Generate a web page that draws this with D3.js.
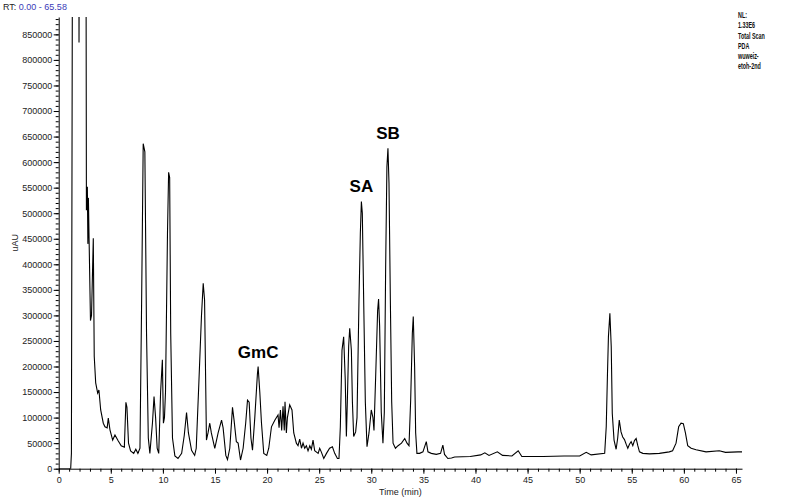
<!DOCTYPE html>
<html>
<head>
<meta charset="utf-8">
<script src="https://cdn.jsdelivr.net/npm/d3@7"></script>
<style>
  body { margin: 0; background: #fff; }
  text { font-family: Arial, "Liberation Sans", sans-serif; }
</style>
</head>
<body>
<div id="chart-container"></div>
<script>
// Retention time (min) and absorbance (uAU)
const times = [0, 1.15, 1.22, 1.30, 1.35, 1.90, 1.95, 2.02, 2.60, 2.66, 2.75, 2.80, 2.85, 2.92, 3.05, 3.15, 3.32, 3.41, 3.55, 3.74, 3.86, 4.03, 4.28, 4.44, 4.65, 4.76, 4.92, 5.18, 5.4, 5.69, 6.0, 6.3, 6.45, 6.55, 6.7, 6.9, 7.2, 7.4, 7.6, 7.8, 7.96, 8.11, 8.27, 8.43, 8.6, 8.75, 9.0, 9.15, 9.3, 9.45, 9.6, 9.78, 9.95, 10.05, 10.15, 10.25, 10.44, 10.55, 10.65, 10.75, 10.92, 11.15, 11.45, 11.8, 12.05, 12.27, 12.45, 12.75, 13.05, 13.2, 13.45, 13.7, 13.87, 14.0, 14.18, 14.33, 14.5, 14.65, 14.98, 15.3, 15.63, 15.78, 16.04, 16.2, 16.42, 16.68, 16.83, 17.05, 17.22, 17.45, 17.7, 17.95, 18.12, 18.28, 18.45, 18.6, 18.82, 19.07, 19.14, 19.3, 19.46, 19.68, 19.97, 20.16, 20.42, 20.74, 21.05, 21.15, 21.28, 21.4, 21.53, 21.65, 21.72, 21.85, 21.95, 22.17, 22.39, 22.56, 22.81, 22.97, 23.13, 23.3, 23.45, 23.61, 23.77, 23.93, 24.1, 24.25, 24.41, 24.57, 24.9, 25.05, 25.2, 25.44, 25.7, 26.0, 26.27, 26.49, 26.75, 26.9, 27.03, 27.19, 27.35, 27.5, 27.61, 27.7, 27.83, 27.93, 28.09, 28.19, 28.31, 28.5, 28.63, 28.82, 28.95, 29.05, 29.14, 29.27, 29.43, 29.59, 29.78, 30.0, 30.16, 30.26, 30.42, 30.61, 30.7, 30.8, 30.96, 31.12, 31.25, 31.38, 31.5, 31.6, 31.7, 31.83, 31.96, 32.09, 32.32, 32.57, 32.9, 33.21, 33.43, 33.62, 33.78, 33.94, 34.03, 34.16, 34.26, 34.38, 34.64, 34.96, 35.28, 35.44, 35.76, 36.24, 36.65, 36.87, 37.03, 37.35, 37.7, 38.0, 39.5, 40.5, 40.9, 41.3, 42.1, 42.6, 43.5, 44.1, 44.45, 46.5, 48.5, 50.0, 50.63, 51.1, 52.4, 52.55, 52.67, 52.76, 52.9, 53.03, 53.13, 53.3, 53.5, 53.65, 53.8, 53.97, 54.13, 54.3, 54.46, 54.62, 54.78, 54.94, 55.1, 55.26, 55.42, 55.58, 55.74, 56.06, 56.7, 57.65, 58.6, 58.92, 59.25, 59.5, 59.73, 59.95, 60.15, 60.37, 60.7, 61.17, 62.13, 63.4, 64.0, 65.2, 65.58];
const signal = [0, 0, 30000, 840000, 1330000, 1330000, 834000, 1330000, 1330000, 506000, 552000, 440000, 530000, 445000, 290000, 300000, 451000, 220000, 168000, 148000, 154000, 115000, 89000, 82000, 80000, 99000, 76000, 56000, 66000, 55000, 45000, 42000, 130000, 120000, 50000, 35000, 30000, 38000, 30000, 40000, 330000, 636000, 620000, 265000, 60000, 30000, 90000, 141000, 100000, 40000, 30000, 150000, 213000, 89000, 100000, 150000, 460000, 580000, 570000, 265000, 60000, 25000, 20000, 30000, 65000, 110000, 70000, 36000, 26000, 40000, 167000, 298000, 363000, 330000, 56000, 70000, 89000, 70000, 40000, 70000, 95000, 80000, 26000, 18000, 40000, 120000, 95000, 53000, 50000, 17000, 40000, 90000, 134000, 130000, 60000, 36000, 100000, 185000, 200000, 150000, 90000, 30000, 26000, 40000, 82000, 95000, 105000, 80000, 115000, 75000, 122000, 75000, 131000, 70000, 100000, 125000, 115000, 70000, 50000, 45000, 58000, 40000, 50000, 40000, 45000, 35000, 45000, 38000, 56000, 35000, 30000, 40000, 33000, 20000, 30000, 40000, 43000, 30000, 20000, 20000, 82000, 232000, 258000, 175000, 63000, 130000, 240000, 275000, 232000, 130000, 63000, 72000, 100000, 330000, 461000, 523000, 500000, 330000, 130000, 43000, 70000, 115000, 100000, 75000, 180000, 310000, 332000, 280000, 110000, 50000, 110000, 396000, 591000, 627000, 559000, 330000, 130000, 50000, 40000, 45000, 50000, 59000, 50000, 45000, 134000, 265000, 298000, 200000, 70000, 30000, 30000, 33000, 53000, 33000, 30000, 28000, 30000, 46000, 28000, 20000, 21000, 23000, 24000, 27000, 31000, 26000, 33000, 26000, 25000, 35000, 24000, 24000, 25000, 25000, 32000, 27000, 30000, 82000, 187000, 258000, 304000, 239000, 108000, 56000, 38000, 60000, 95000, 72000, 62000, 57000, 48000, 40000, 48000, 53000, 45000, 55000, 59000, 45000, 33000, 30000, 29000, 30000, 33000, 35000, 50000, 82000, 89000, 88000, 70000, 45000, 40000, 37000, 33000, 35000, 32000, 33000, 33000];

// Peak annotations
const peakNames = ["GmC", "SA", "SB"];
const peakTimes = [19.14, 29.05, 31.6];
const peakHeights = [200000, 523000, 627000];

// Header / info block
const rtRange = [0.00, 65.58];
const infoLines = ["NL:", "1.33E6", "Total Scan", "PDA", "wuweiz-", "etoh-2nd"];

const data = times.map((t, i) => ({ t: t, v: signal[i] }));

// Set dimensions and margins for the chart
const W = 787, H = 501;
const margin = { top: 17, right: 45, bottom: 32.3, left: 58.7 };
const width = W - margin.left - margin.right;
const height = H - margin.top - margin.bottom;

const x = d3.scaleLinear().domain(rtRange).range([0, width]);
const y = d3.scaleLinear().domain([0, 884000]).range([height, 0]);

const root = d3.select("#chart-container")
  .append("svg")
  .attr("width", W)
  .attr("height", H);

const svg = root.append("g")
  .attr("transform", `translate(${margin.left}, ${margin.top})`);

svg.append("clipPath")
  .attr("id", "plot-clip")
  .append("rect")
  .attr("x", 0).attr("y", 0)
  .attr("width", width).attr("height", height);

// Minor x ticks every minute
svg.append("g")
  .attr("transform", `translate(0, ${height})`)
  .call(d3.axisBottom(x).tickValues(d3.range(0, 66, 1)).tickSize(3).tickSizeOuter(0).tickFormat(""))
  .call(g => g.select(".domain").attr("stroke", "#000"));

// Major x ticks every 5 min
svg.append("g")
  .attr("transform", `translate(0, ${height})`)
  .style("font-size", "9px")
  .call(d3.axisBottom(x).tickValues(d3.range(0, 66, 5)).tickSize(5).tickSizeOuter(0).tickPadding(3))
  .call(g => g.select(".domain").remove())
  .call(g => g.selectAll("text").attr("fill", "#222").style("font-family", "Arial, 'Liberation Sans', sans-serif"));

// Minor y ticks
svg.append("g")
  .call(d3.axisLeft(y).tickValues(d3.range(0, 884001, 10000)).tickSize(3).tickSizeOuter(0).tickFormat(""))
  .call(g => g.select(".domain").attr("stroke", "#000"));

// Major y ticks
svg.append("g")
  .style("font-size", "9px")
  .call(d3.axisLeft(y).tickValues(d3.range(0, 884001, 50000)).tickSize(5).tickSizeOuter(0).tickPadding(1.5).tickFormat(d3.format("d")))
  .call(g => g.select(".domain").remove())
  .call(g => g.selectAll("text").attr("fill", "#222").style("font-family", "Arial, 'Liberation Sans', sans-serif"));

// Trace
const line = d3.line()
  .x(d => x(d.t))
  .y(d => y(d.v));

svg.append("path")
  .datum(data)
  .attr("clip-path", "url(#plot-clip)")
  .attr("fill", "none")
  .attr("stroke", "#000")
  .attr("stroke-width", 1.1)
  .attr("d", line);

// Peak labels
svg.selectAll(".peak-label")
  .data(peakNames)
  .join("text")
  .attr("class", "peak-label")
  .attr("x", (d, i) => x(peakTimes[i]))
  .attr("y", (d, i) => y(peakHeights[i]) - 9)
  .attr("text-anchor", "middle")
  .style("font-size", "17px")
  .style("font-weight", "bold")
  .attr("fill", "#000")
  .text(d => d);

// Axis titles
svg.append("text")
  .attr("x", width / 2)
  .attr("y", height + 26.5)
  .attr("text-anchor", "middle")
  .style("font-size", "9px")
  .attr("fill", "#222")
  .text("Time (min)");

root.append("text")
  .attr("transform", `translate(18, ${margin.top + height / 2}) rotate(-90)`)
  .attr("text-anchor", "middle")
  .style("font-size", "9px")
  .attr("fill", "#222")
  .text("uAU");

// RT header
const rt = root.append("text")
  .attr("x", 3)
  .attr("y", 10)
  .style("font-size", "9px");
rt.append("tspan").attr("fill", "#222").text("RT: ");
rt.append("tspan").attr("fill", "#3a3ab8").text(`${rtRange[0].toFixed(2)} - ${rtRange[1].toFixed(2)}`);

// Info block top right
const info = root.append("g")
  .attr("transform", "translate(738, 0) scale(0.6, 1)");
info.selectAll("text")
  .data(infoLines)
  .join("text")
  .attr("x", 0)
  .attr("y", (d, i) => 18 + i * 10.3)
  .style("font-size", "9px")
  .style("font-weight", "bold")
  .attr("fill", "#111")
  .text(d => d);
</script>
</body>
</html>
